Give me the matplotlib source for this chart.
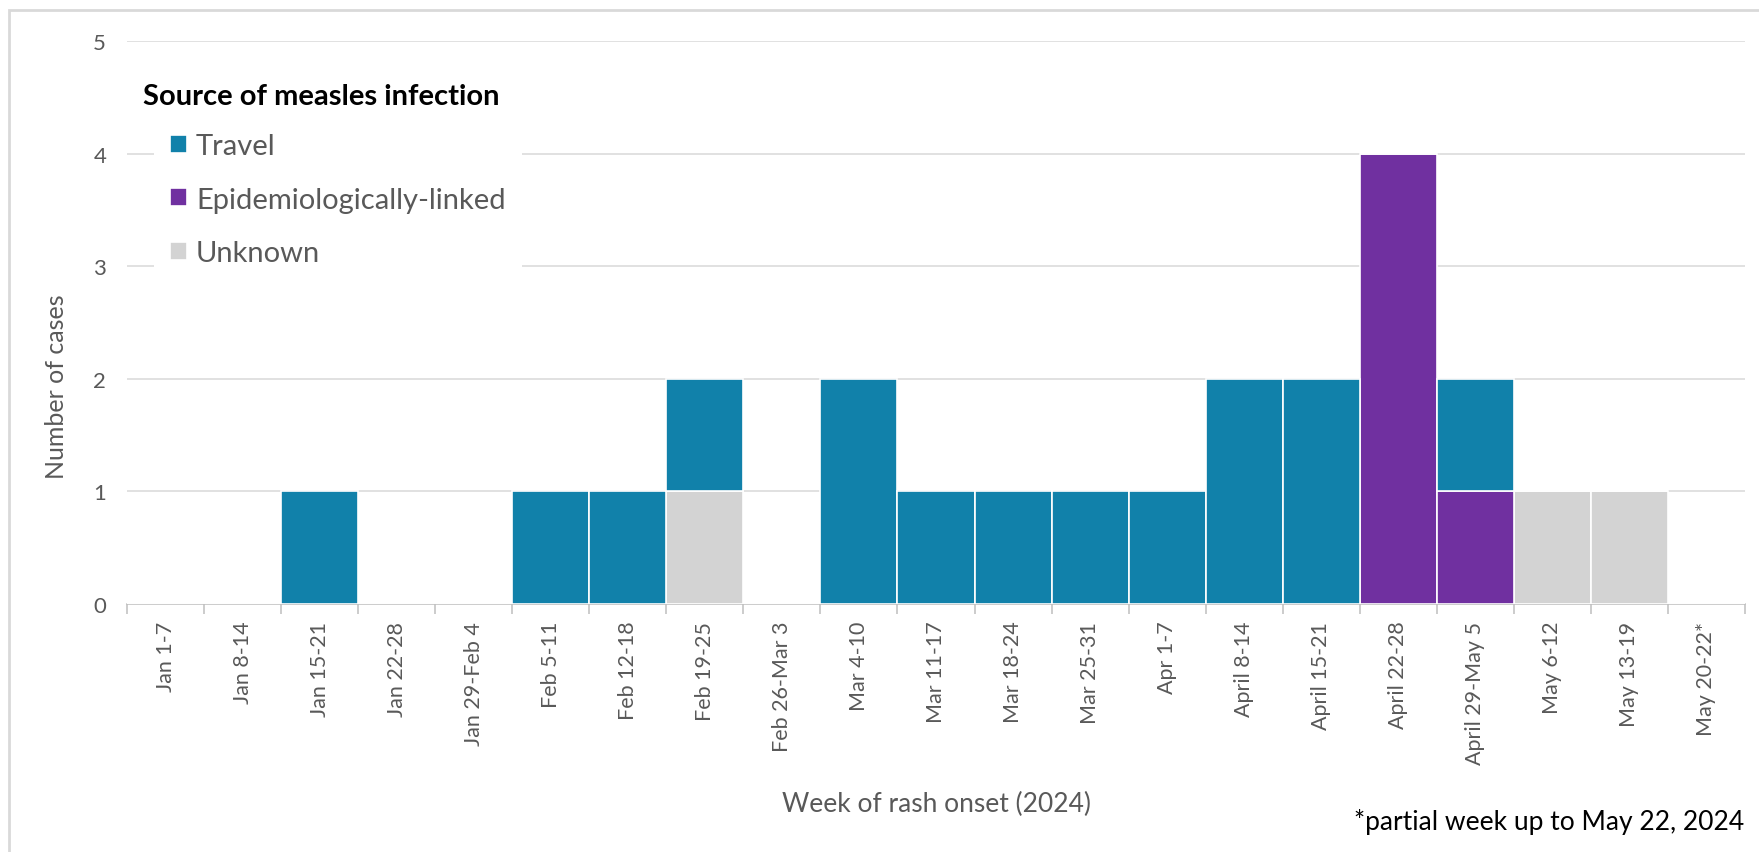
import numpy as np
import matplotlib.pyplot as plt
from matplotlib.patches import Rectangle

plt.rcParams['font.family'] = ['Lato', 'DejaVu Sans']

# week labels
weeks = ["Jan 1-7", "Jan 8-14", "Jan 15-21", "Jan 22-28", "Jan 29-Feb 4",
         "Feb 5-11", "Feb 12-18", "Feb 19-25", "Feb 26-Mar 3", "Mar 4-10",
         "Mar 11-17", "Mar 18-24", "Mar 25-31", "Apr 1-7", "April 8-14",
         "April 15-21", "April 22-28", "April 29-May 5", "May 6-12",
         "May 13-19", "May 20-22*"]

# cases per source
unknown = [0, 0, 0, 0, 0, 0, 0, 1, 0, 0, 0, 0, 0, 0, 0, 0, 0, 0, 1, 1, 0]
epi_linked = [0, 0, 0, 0, 0, 0, 0, 0, 0, 0, 0, 0, 0, 0, 0, 0, 4, 1, 0, 0, 0]
travel = [0, 0, 1, 0, 0, 1, 1, 1, 0, 2, 1, 1, 1, 1, 2, 2, 0, 1, 0, 0, 0]

c_travel = "#1181AA"
c_epi = "#7030A0"
c_unknown = "#D3D3D3"
grey_txt = "#595959"

W, H = 1759, 853
fig = plt.figure(figsize=(W / 100, H / 100), dpi=100)
# plot area in pixels: x 127..1745, y 42..605
ax = fig.add_axes([127 / W, 1 - 605 / H, (1745 - 127) / W, (605 - 42) / H])

x = np.arange(len(weeks))
unknown = np.array(unknown)
epi_linked = np.array(epi_linked)
travel = np.array(travel)

ax.bar(x, unknown, width=1.0, color=c_unknown, edgecolor="white", linewidth=1.2,
       label="Unknown", zorder=3)
ax.bar(x, epi_linked, width=1.0, bottom=unknown, color=c_epi, edgecolor="white",
       linewidth=1.2, label="Epidemiologically-linked", zorder=3)
ax.bar(x, travel, width=1.0, bottom=unknown + epi_linked, color=c_travel,
       edgecolor="white", linewidth=1.2, label="Travel", zorder=3)

ax.set_xlim(-0.5, len(weeks) - 0.5)
ax.set_ylim(0, 5)
ax.set_yticks(range(6))
ax.yaxis.grid(True, color="#D9D9D9", linewidth=1.1, zorder=0)
ax.set_axisbelow(True)

for s in ["top", "right", "left"]:
    ax.spines[s].set_visible(False)
ax.spines["bottom"].set_color("#BFBFBF")
ax.spines["bottom"].set_linewidth(1.1)

ax.set_xticks(x)
ax.set_xticklabels(weeks, rotation=90, fontsize=15.5, color=grey_txt)
ax.set_xticks(np.arange(-0.5, len(weeks) + 0.5, 1), minor=True)
ax.tick_params(axis="x", which="major", length=0, pad=12)
ax.tick_params(axis="x", which="minor", length=7, color="#BFBFBF", width=1.1)
ax.tick_params(axis="y", length=0, labelsize=16, labelcolor=grey_txt, pad=15)

fig.text(56 / W, 1 - 387 / H, "Number of cases", fontsize=18, color=grey_txt,
         rotation=90, ha="center", va="center")
fig.text(936 / W, 1 - 804 / H, "Week of rash onset (2024)", fontsize=19,
         color=grey_txt, ha="center", va="center")
fig.text(1354 / W, 1 - 822 / H, "*partial week up to May 22, 2024", fontsize=19,
         color="black", ha="left", va="center")

# legend title as separate text
fig.text(143 / W, 1 - 97 / H, "Source of measles infection", fontsize=21,
         fontweight="bold", color="black", ha="left", va="center")

h, l = ax.get_legend_handles_labels()
leg = ax.legend(h[::-1], l[::-1], loc="upper left",
                bbox_to_anchor=(154 / W, 1 - 118 / H), bbox_transform=fig.transFigure,
                fontsize=21, frameon=True, facecolor="white", edgecolor="none",
                framealpha=1, fancybox=False, handlelength=0.57, handleheight=0.57,
                handletextpad=0.32, labelspacing=0.95, borderpad=0.55,
                borderaxespad=0, labelcolor=grey_txt)
leg.set_zorder(5)

# outer border
fig.patches.append(Rectangle((9 / W, -0.05), 1.1, 1.05 - 11 / H,
                             transform=fig.transFigure, fill=False,
                             edgecolor="#D9D9D9", linewidth=2))

fig.savefig("out.png", dpi=100)
